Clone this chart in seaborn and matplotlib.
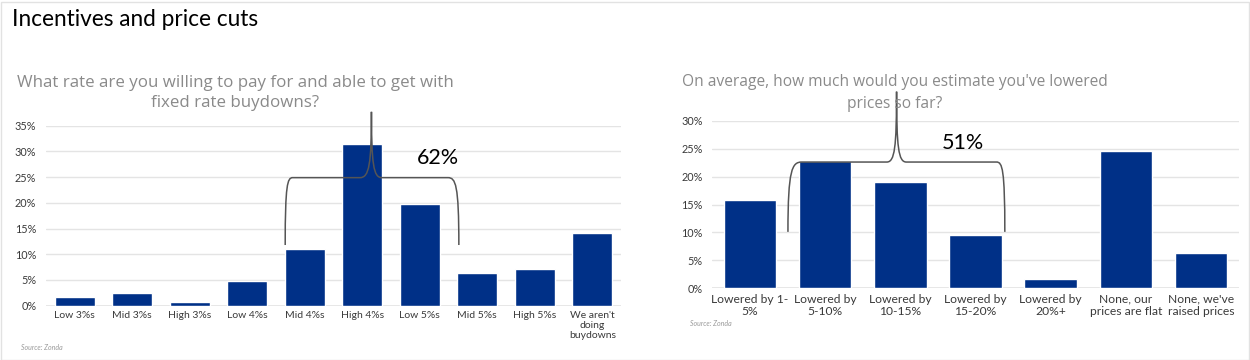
import matplotlib
matplotlib.use("Agg")
import matplotlib.pyplot as plt
import seaborn as sns
import pandas as pd
from matplotlib.path import Path
from matplotlib.patches import PathPatch, Rectangle

# ---------------- data ----------------
rate_categories = ["Low 3%s", "Mid 3%s", "High 3%s", "Low 4%s", "Mid 4%s",
                   "High 4%s", "Low 5%s", "Mid 5%s", "High 5%s",
                   "We aren't\ndoing\nbuydowns"]
rate_values = [1.6, 2.4, 0.8, 4.8, 11.0, 31.5, 19.7, 6.4, 7.1, 14.1]

price_categories = ["Lowered by 1-\n5%", "Lowered by\n5-10%", "Lowered by\n10-15%",
                    "Lowered by\n15-20%", "Lowered by\n20%+",
                    "None, our\nprices are flat", "None, we've\nraised prices"]
price_values = [15.8, 22.8, 19.0, 9.5, 1.7, 24.5, 6.3]

rate_ticks = [0, 5, 10, 15, 20, 25, 30, 35]
price_ticks = [0, 5, 10, 15, 20, 25, 30]

main_title = "Incentives and price cuts"
left_title = "What rate are you willing to pay for and able to get with\nfixed rate buydowns?"
right_title = "On average, how much would you estimate you've lowered\nprices so far?"
left_callout = "62%"
right_callout = "51%"
source = "Source: Zonda"

# ---------------- style ----------------
sns.set_theme(style="white")
plt.rcParams["font.family"] = ["Lato", "DejaVu Sans"]

BAR = "#003087"
GRID = "#e4e4e4"
TICK = "#3a3a3a"
GRAY = "#8a8a8a"
BRACE = "#555555"

W, H = 1250, 360
fig = plt.figure(figsize=(W / 100, H / 100), dpi=100)
fig.patch.set_facecolor("white")

def px_axes(x0, x1, ytop, ybot):
    return fig.add_axes([x0 / W, 1 - ybot / H, (x1 - x0) / W, (ybot - ytop) / H])

axL = px_axes(46, 621, 125.7, 305.7)
axR = px_axes(712.4, 1238.6, 120.7, 288.3)

dfL = pd.DataFrame({"cat": rate_categories, "val": rate_values})
dfR = pd.DataFrame({"cat": price_categories, "val": price_values})

sns.barplot(data=dfL, x="cat", y="val", color=BAR, saturation=1, width=0.7, ax=axL, zorder=3)
sns.barplot(data=dfR, x="cat", y="val", color=BAR, saturation=1, width=0.7, ax=axR, zorder=3)

for ax, ticks, n, xfs in [(axL, rate_ticks, len(rate_categories), 7.5),
                          (axR, price_ticks, len(price_categories), 8.7)]:
    ax.set_xlim(-0.5, n - 0.5)
    ax.set_ylim(0, ticks[-1])
    ax.set_yticks(ticks)
    ax.set_yticklabels([f"{t}%" for t in ticks])
    ax.yaxis.grid(True, color=GRID, lw=1.0, zorder=0)
    ax.set_axisbelow(True)
    for s in ax.spines.values():
        s.set_visible(False)
    ax.set_xlabel("")
    ax.set_ylabel("")
    ax.tick_params(axis="y", length=0, pad=7, labelsize=7.8, labelcolor=TICK)
    ax.tick_params(axis="x", length=0, pad=4, labelsize=xfs, labelcolor=TICK)
    for lab in ax.get_xticklabels():
        lab.set_linespacing(1.15)
    ax.axhline(0, color=GRID, lw=1.2, zorder=1)

# titles
fig.text(12 / W, 1 - 20 / H, main_title, fontsize=16.3, color="black",
         ha="left", va="center", family=["Lato", "DejaVu Sans"])
fig.text(235 / W, 1 - 93 / H, left_title, fontsize=12.2, color=GRAY, ha="center",
         va="center", multialignment="center", linespacing=1.35,
         family=["Open Sans", "DejaVu Sans"])
fig.text(895 / W, 1 - 93 / H, right_title, fontsize=11.2, color=GRAY, ha="center",
         va="center", multialignment="center", linespacing=1.45,
         family=["Open Sans", "DejaVu Sans"])

# source notes
fig.text(21 / W, 1 - 348 / H, source, fontsize=5, color="#9a9a9a", style="italic",
         ha="left", va="center")
fig.text(690 / W, 1 - 323 / H, source, fontsize=5, color="#9a9a9a", style="italic",
         ha="left", va="center")

# braces
def brace(ax, x0, xc0, xl, xp, xr, xc1, x1, ylow, ymid, ytop):
    verts = [
        (x0, ylow),
        (x0, ymid - (ymid - ylow) * 0.1), (x0 + (xc0 - x0) * 0.3, ymid), (xc0, ymid),
        (xl, ymid),
        (xl + (xp - xl) * 0.8, ymid), (xp, ymid + (ytop - ymid) * 0.2), (xp, ytop),
        (xp, ymid + (ytop - ymid) * 0.2), (xr - (xr - xp) * 0.8, ymid), (xr, ymid),
        (xc1, ymid),
        (x1 - (x1 - xc1) * 0.3, ymid), (x1, ymid - (ymid - ylow) * 0.1), (x1, ylow),
    ]
    codes = [Path.MOVETO,
             Path.CURVE4, Path.CURVE4, Path.CURVE4,
             Path.LINETO,
             Path.CURVE4, Path.CURVE4, Path.CURVE4,
             Path.CURVE4, Path.CURVE4, Path.CURVE4,
             Path.LINETO,
             Path.CURVE4, Path.CURVE4, Path.CURVE4]
    p = PathPatch(Path(verts, codes), fill=False, ec=BRACE, lw=1.1, clip_on=False, zorder=5)
    ax.add_patch(p)

brace(axL, 3.66, 3.79, 4.96, 5.16, 5.34, 6.49, 6.68, 11.8, 24.9, 37.7)
brace(axR, 0.505, 0.69, 1.82, 1.95, 2.08, 3.28, 3.39, 10.1, 22.6, 35.2)

axL.text(6.32, 28.7, left_callout, fontsize=15.5, color="black", ha="center", va="center",
         family=["Lato", "DejaVu Sans"], zorder=6)
axR.text(2.83, 26.0, right_callout, fontsize=15.5, color="black", ha="center", va="center",
         family=["Lato", "DejaVu Sans"], zorder=6)

# faint frame around the figure
fig.add_artist(Rectangle((0.5 / W, 0.5 / H), (W - 2) / W, (H - 2) / H, transform=fig.transFigure,
                         fill=False, ec="#e2e2e2", lw=1))

fig.savefig("out.png", dpi=100, facecolor="white")
